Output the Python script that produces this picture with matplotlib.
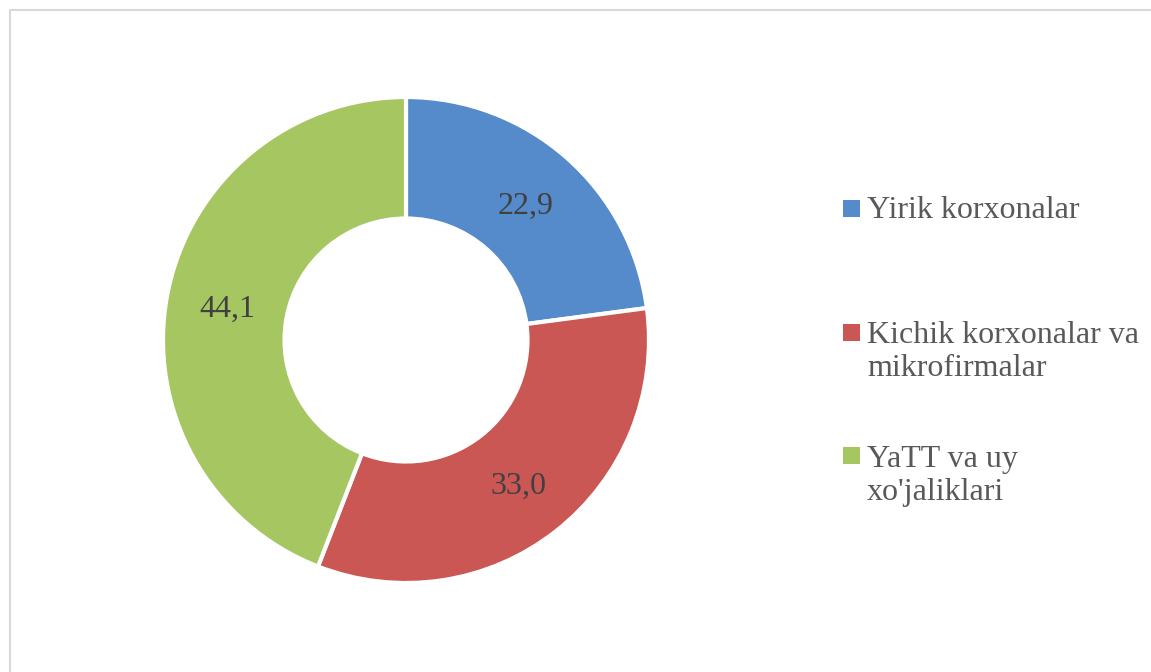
import matplotlib
matplotlib.use("Agg")
import matplotlib.pyplot as plt
import matplotlib.transforms as mtransforms
from matplotlib.patches import Rectangle
import numpy as np

categories = ["Yirik korxonalar", "Kichik korxonalar va\nmikrofirmalar", "YaTT va uy\nxo'jaliklari"]
values = [22.9, 33.0, 44.1]
value_labels = ["22,9", "33,0", "44,1"]
colors = ["#558BCB", "#CB5754", "#A6C661"]

plt.rcParams['font.family'] = ['Liberation Serif', 'DejaVu Serif']

W, H = 1151, 672
fig = plt.figure(figsize=(W / 100, H / 100), dpi=100)
fig.patch.set_facecolor("white")

# donut axes: center (406,340), radius ~242 px
cx, cy, R = 406, 340, 243
ax = fig.add_axes([(cx - R) / W, (H - cy - R) / H, 2 * R / W, 2 * R / H])
wedges, _ = ax.pie(values, colors=colors, startangle=90, counterclock=False,
                   radius=1.0,
                   wedgeprops=dict(width=0.5, edgecolor="white", linewidth=3))
shift = mtransforms.ScaledTranslation(0, -3 / 100, fig.dpi_scale_trans)
ang = 90.0
total = sum(values)
for v, lab in zip(values, value_labels):
    span = v / total * 360
    mid = np.deg2rad(ang - span / 2)
    ax.text(0.75 * np.cos(mid), 0.75 * np.sin(mid), lab, ha="center", va="center",
            fontsize=23, color="#404040", transform=ax.transData + shift)
    ang -= span
ax.set_xlim(-1, 1)
ax.set_ylim(-1, 1)
ax.set_aspect("equal")
ax.axis("off")

# legend drawn manually
marker_y = [208, 332, 455]
baseline_y = [218, 343, 467]
line_gap = 33
text_x = 867
for lab, col, my, by in zip(categories, colors, marker_y, baseline_y):
    fig.patches.append(Rectangle((843 / W, (H - my - 8.5) / H), 17 / W, 17 / H,
                                 transform=fig.transFigure, facecolor=col,
                                 edgecolor="none"))
    for i, line in enumerate(lab.split("\n")):
        fig.text(text_x / W, (H - by - i * line_gap) / H, line, ha="left",
                 va="baseline", fontsize=23, color="#595959")

# chart border
fig.patches.append(Rectangle((10 / W, -0.1), 1.2, (H - 10) / H + 0.1,
                             transform=fig.transFigure, facecolor="none",
                             edgecolor="#D9D9D9", linewidth=1.5))

fig.savefig("out.png", dpi=100, facecolor="white")
